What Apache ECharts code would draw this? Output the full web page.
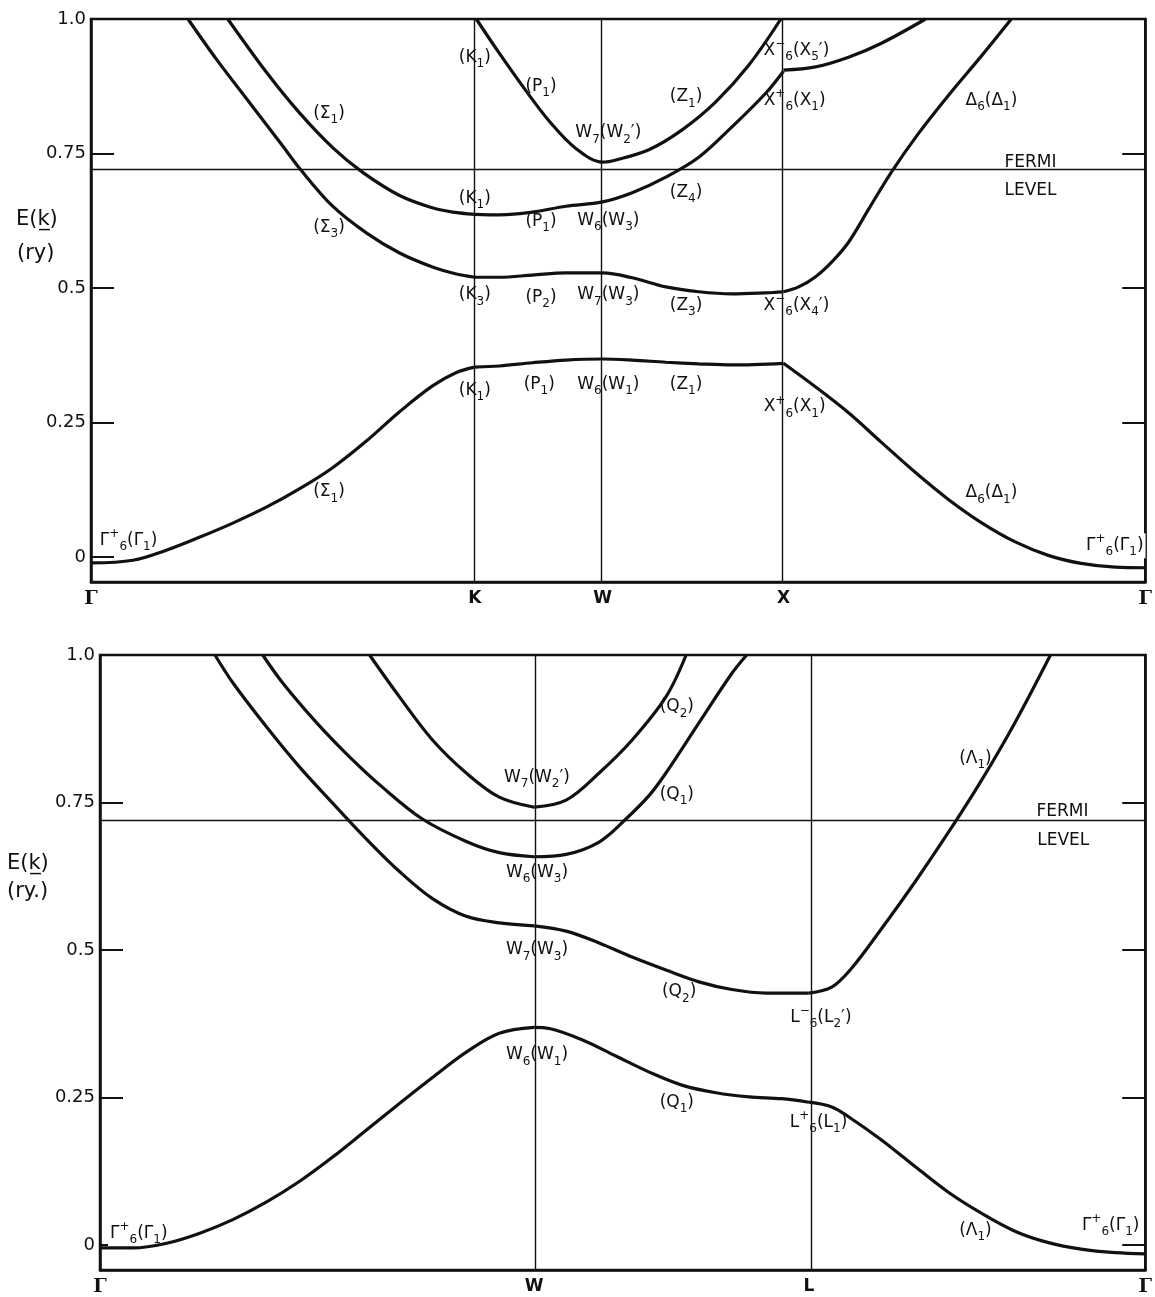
<!DOCTYPE html>
<html><head><meta charset="utf-8">
<script src="https://cdn.jsdelivr.net/npm/echarts@6/dist/echarts.min.js"></script>
<style>html,body{margin:0;padding:0;background:#fff}#c{width:1155px;height:1297px}</style>
</head><body><div id="c"></div>
<script>
// ---------- k-path (symmetry points) ----------
const topPath = [0, 1.0607, 1.4142, 1.9142, 2.9142];
const topPathNames = ['Γ', 'K', 'W', 'X', 'Γ'];
const botPath = [0, 1.1180, 1.8251, 2.6911];
const botPathNames = ['Γ', 'W', 'L', 'Γ'];
const yTickVals = [0, 0.25, 0.5, 0.75, 1.0];
const yTickLabels = ['0', '0.25', '0.5', '0.75', '1.0'];
const fermiTop = 0.716;
const fermiBot = 0.717;

// ---------- top panel bands ----------
const top_b1_GK = [[0,-0.011],[0.116,-0.006],[0.210,0.013],[0.301,0.037],[0.392,0.063],[0.486,0.093],[0.577,0.127],[0.668,0.166],[0.762,0.216],[0.853,0.270],[0.944,0.318],[1.010,0.343],[1.061,0.353]];
const top_b1_KX = [[1.061,0.353],[1.129,0.355],[1.220,0.361],[1.313,0.366],[1.414,0.368],[1.496,0.366],[1.589,0.362],[1.680,0.359],[1.771,0.357],[1.914,0.360]];
const top_b1_XG = [[1.914,0.360],[2.003,0.316],[2.094,0.268],[2.185,0.213],[2.279,0.157],[2.370,0.107],[2.461,0.064],[2.555,0.028],[2.646,0.003],[2.737,-0.012],[2.831,-0.019],[2.914,-0.020]];

const top_b2_GK = [[0.268,1.0],[0.348,0.924],[0.439,0.844],[0.530,0.764],[0.577,0.722],[0.668,0.652],[0.762,0.602],[0.853,0.565],[0.944,0.539],[1.010,0.526],[1.061,0.520]];
const top_b2_KX = [[1.061,0.520],[1.129,0.520],[1.220,0.524],[1.313,0.528],[1.414,0.528],[1.496,0.519],[1.589,0.502],[1.680,0.493],[1.771,0.489],[1.865,0.491],[1.914,0.493]];
const top_b2_XG = [[1.914,0.493],[1.956,0.502],[2.003,0.521],[2.050,0.550],[2.094,0.585],[2.150,0.647],[2.213,0.716],[2.287,0.787],[2.370,0.858],[2.461,0.931],[2.544,1.0]];

const top_b3_GK = [[0.378,1.0],[0.486,0.900],[0.577,0.825],[0.668,0.761],[0.751,0.715],[0.853,0.672],[0.944,0.649],[1.000,0.641],[1.061,0.637]];
const top_b3_KX = [[1.061,0.637],[1.129,0.636],[1.220,0.641],[1.313,0.652],[1.414,0.660],[1.496,0.677],[1.589,0.706],[1.680,0.743],[1.771,0.799],[1.865,0.862],[1.914,0.903]];
const top_b3_XG = [[1.914,0.905],[2.003,0.911],[2.094,0.929],[2.185,0.955],[2.307,1.0]];

const top_b4_KX = [[1.065,1.0],[1.129,0.936],[1.203,0.866],[1.267,0.810],[1.341,0.759],[1.414,0.734],[1.451,0.738],[1.542,0.757],[1.634,0.794],[1.727,0.846],[1.818,0.914],[1.907,1.0]];

// ---------- bottom panel bands ----------
const bot_b1_GW = [[0,-0.005],[0.085,-0.005],[0.172,0.003],[0.257,0.020],[0.342,0.043],[0.429,0.073],[0.514,0.108],[0.599,0.149],[0.686,0.195],[0.771,0.240],[0.856,0.284],[0.943,0.327],[1.028,0.359],[1.118,0.369]];
const bot_b1_WL = [[1.118,0.369],[1.157,0.367],[1.241,0.348],[1.329,0.320],[1.414,0.293],[1.498,0.271],[1.586,0.258],[1.671,0.251],[1.755,0.248],[1.825,0.242]];
const bot_b1_LG = [[1.825,0.242],[1.884,0.234],[1.928,0.217],[2.012,0.178],[2.100,0.132],[2.185,0.089],[2.269,0.054],[2.357,0.023],[2.442,0.004],[2.526,-0.007],[2.614,-0.013],[2.691,-0.015]];

const bot_b2_GW = [[0.296,1.0],[0.342,0.953],[0.429,0.878],[0.514,0.810],[0.599,0.749],[0.686,0.688],[0.771,0.633],[0.856,0.587],[0.943,0.557],[1.028,0.546],[1.118,0.541]];
const bot_b2_WL = [[1.118,0.541],[1.200,0.532],[1.285,0.512],[1.370,0.488],[1.457,0.466],[1.542,0.446],[1.627,0.433],[1.714,0.427],[1.825,0.427]];
const bot_b2_LG = [[1.825,0.427],[1.884,0.437],[1.935,0.469],[2.012,0.536],[2.100,0.617],[2.185,0.700],[2.269,0.787],[2.357,0.887],[2.447,1.0]];

const bot_b3_GW = [[0.419,1.0],[0.470,0.953],[0.558,0.885],[0.643,0.827],[0.727,0.776],[0.830,0.722],[0.943,0.684],[1.028,0.665],[1.118,0.658]];
const bot_b3_WL = [[1.118,0.658],[1.200,0.662],[1.285,0.683],[1.354,0.722],[1.414,0.762],[1.457,0.800],[1.542,0.885],[1.627,0.969],[1.665,1.0]];

const bot_b4_GW = [[0.694,1.0],[0.771,0.929],[0.856,0.856],[0.943,0.800],[1.028,0.759],[1.118,0.742]];
const bot_b4_WL = [[1.118,0.742],[1.200,0.754],[1.285,0.800],[1.370,0.856],[1.457,0.929],[1.509,1.0]];

// ---------- labels  (k, E, text;  _x = subscript, ^x = superscript) ----------
const topLabels = [
  [0.658,0.825,'(Σ_1)'], [0.658,0.612,'(Σ_3)'], [1.061,0.929,'(K_1)'], [1.244,0.874,'(P_1)'],
  [1.645,0.855,'(Z_1)'], [1.430,0.788,'W_7(W_2′)'], [1.950,0.942,'X^−_6(X_5′)'], [1.945,0.849,'X^+_6(X_1)'],
  [2.489,0.849,'Δ_6(Δ_1)'], [1.061,0.667,'(K_1)'], [1.645,0.678,'(Z_4)'], [1.244,0.623,'(P_1)'],
  [1.430,0.626,'W_6(W_3)'], [1.061,0.487,'(K_3)'], [1.244,0.483,'(P_2)'], [1.430,0.487,'W_7(W_3)'],
  [1.645,0.468,'(Z_3)'], [1.950,0.468,'X^−_6(X_4′)'], [1.061,0.310,'(K_1)'], [1.239,0.320,'(P_1)'],
  [1.430,0.320,'W_6(W_1)'], [1.645,0.320,'(Z_1)'], [1.945,0.279,'X^+_6(X_1)'], [0.658,0.121,'(Σ_1)'],
  [2.489,0.119,'Δ_6(Δ_1)'], [0.104,0.030,'Γ^+_6(Γ_1)'], [2.830,0.021,'Γ^+_6(Γ_1)'],
  [2.597,0.734,'FERMI'], [2.597,0.682,'LEVEL']
];
const botLabels = [
  [1.485,0.912,'(Q_2)'], [1.125,0.792,'W_7(W_2′)'], [1.485,0.763,'(Q_1)'], [1.125,0.631,'W_6(W_3)'],
  [1.125,0.500,'W_7(W_3)'], [1.491,0.429,'(Q_2)'], [1.125,0.322,'W_6(W_1)'], [1.485,0.242,'(Q_1)'],
  [1.856,0.386,'L^−_6(L_2′)'], [1.850,0.207,'L^+_6(L_1)'], [2.254,0.825,'(Λ_1)'], [2.254,0.025,'(Λ_1)'],
  [0.100,0.019,'Γ^+_6(Γ_1)'], [2.602,0.033,'Γ^+_6(Γ_1)'],
  [2.478,0.734,'FERMI'], [2.480,0.686,'LEVEL']
];

// ---------- helpers ----------
function toRich(str) {
  let out = '', buf = '';
  for (let i = 0; i < str.length; i++) {
    const c = str[i];
    if (c === '_' || c === '^') {
      if (buf) { out += '{n|' + buf + '}'; buf = ''; }
      out += '{' + (c === '_' ? 'b' : 'p') + '|' + str[i + 1] + '}';
      i++;
    } else buf += c;
  }
  if (buf) out += '{n|' + buf + '}';
  return out;
}
const FONT = 'DejaVu Sans';
const INK = '#111111';
const richStyles = {
  n: { fontFamily: FONT, fontSize: 17, lineHeight: 25, color: INK, textBorderWidth: 0 },
  b: { fontFamily: FONT, fontSize: 12, lineHeight: 12, verticalAlign: 'bottom', color: INK, textBorderWidth: 0 },
  p: { fontFamily: FONT, fontSize: 12, lineHeight: 12, verticalAlign: 'top', color: INK, textBorderWidth: 0 }
};

function bandSeries(arr, idx) {
  return {
    type: 'line', xAxisIndex: idx, yAxisIndex: idx * 2, data: arr, smooth: 0.35,
    showSymbol: false, symbol: 'none', z: 5, silent: true,
    lineStyle: { color: INK, width: 3.2 }
  };
}
function labelSeries(arr, idx) {
  return {
    type: 'scatter', xAxisIndex: idx, yAxisIndex: idx * 2, data: arr, symbolSize: 0.5, z: 3, silent: true,
    itemStyle: { color: '#ffffff', opacity: 1 },
    label: {
      show: true, position: 'inside', formatter: p => toRich(p.data[2]),
      color: INK, opacity: 1, textBorderWidth: 0,
      backgroundColor: '#fff', padding: [0, 2], rich: richStyles
    }
  };
}
function refSeries(idx, xs, fermi) {
  return {
    type: 'line', xAxisIndex: idx, yAxisIndex: idx * 2, data: [], z: 1, silent: true,
    markLine: {
      silent: true, symbol: ['none', 'none'], label: { show: false }, animation: false,
      lineStyle: { color: INK, width: 1.4, type: 'solid' },
      data: xs.map(v => ({ xAxis: v })).concat([{ yAxis: fermi }])
    }
  };
}
function xAxisFor(idx, pos, names) {
  return {
    type: 'value', gridIndex: idx, min: pos[0], max: pos[pos.length - 1],
    axisLine: { show: true, onZero: false, lineStyle: { color: INK, width: 2.5 } },
    axisTick: { show: false }, splitLine: { show: false },
    axisLabel: {
      customValues: pos, margin: 8, showMinLabel: true, showMaxLabel: true,
      formatter: v => {
        let i = 0, d = 1e9;
        pos.forEach((p, j) => { if (Math.abs(p - v) < d) { d = Math.abs(p - v); i = j; } });
        return names[i] === 'Γ' ? '{g|Γ}' : '{s|' + names[i] + '}';
      },
      rich: {
        g: { fontFamily: 'DejaVu Serif', fontWeight: 'bold', fontSize: 19, color: INK },
        s: { fontFamily: FONT, fontWeight: 'bold', fontSize: 17, color: INK }
      }
    }
  };
}
function yAxesFor(idx, min) {
  return [{
    type: 'value', gridIndex: idx, min: min, max: 1.0, position: 'left',
    axisLine: { show: true, onZero: false, lineStyle: { color: INK, width: 2.5 } },
    splitLine: { show: false },
    axisTick: { show: true, inside: true, length: 23, customValues: yTickVals.slice(0, 4), lineStyle: { color: INK, width: 2 } },
    axisLabel: {
      customValues: yTickVals, margin: 5, color: INK, fontFamily: FONT, fontSize: 18,
      formatter: v => { const i = yTickVals.findIndex(t => Math.abs(t - v) < 1e-6); return i >= 0 ? yTickLabels[i] : ''; }
    }
  }, {
    type: 'value', gridIndex: idx, min: min, max: 1.0, position: 'right',
    axisLine: { show: true, onZero: false, lineStyle: { color: INK, width: 2.5 } },
    splitLine: { show: false },
    axisTick: { show: true, inside: true, length: 23, customValues: yTickVals.slice(0, 4), lineStyle: { color: INK, width: 2 } },
    axisLabel: { show: false, customValues: yTickVals.slice(0, 4) }
  }];
}

const series = [
  refSeries(0, topPath.slice(1, -1), fermiTop),
  refSeries(1, botPath.slice(1, -1), fermiBot),
  ...[top_b1_GK, top_b1_KX, top_b1_XG, top_b2_GK, top_b2_KX, top_b2_XG, top_b3_GK, top_b3_KX, top_b3_XG, top_b4_KX].map(a => bandSeries(a, 0)),
  ...[bot_b1_GW, bot_b1_WL, bot_b1_LG, bot_b2_GW, bot_b2_WL, bot_b2_LG, bot_b3_GW, bot_b3_WL, bot_b4_GW, bot_b4_WL].map(a => bandSeries(a, 1)),
  labelSeries(topLabels, 0),
  labelSeries(botLabels, 1)
];

const chart = echarts.init(document.getElementById('c'), null, { renderer: 'canvas' });
chart.setOption({
  animation: false,
  backgroundColor: '#fff',
  grid: [
    { left: 91, top: 19, right: 8, bottom: 715, show: true, borderColor: INK, borderWidth: 2.5, backgroundColor: 'transparent' },
    { left: 100, top: 655, right: 8, bottom: 27, show: true, borderColor: INK, borderWidth: 2.5, backgroundColor: 'transparent' }
  ],
  xAxis: [xAxisFor(0, topPath, topPathNames), xAxisFor(1, botPath, botPathNames)],
  yAxis: [...yAxesFor(0, -0.0465), ...yAxesFor(1, -0.0424)],
  graphic: [
    { type: 'text', left: 16, top: 209, style: { text: 'E(k̲)', font: '21px "DejaVu Sans"', fill: INK } },
    { type: 'text', left: 17, top: 243, style: { text: '(ry)', font: '21px "DejaVu Sans"', fill: INK } },
    { type: 'text', left: 7, top: 853, style: { text: 'E(k̲)', font: '21px "DejaVu Sans"', fill: INK } },
    { type: 'text', left: 7, top: 881, style: { text: '(ry.)', font: '21px "DejaVu Sans"', fill: INK } }
  ],
  series: series
});
</script>
</body></html>
